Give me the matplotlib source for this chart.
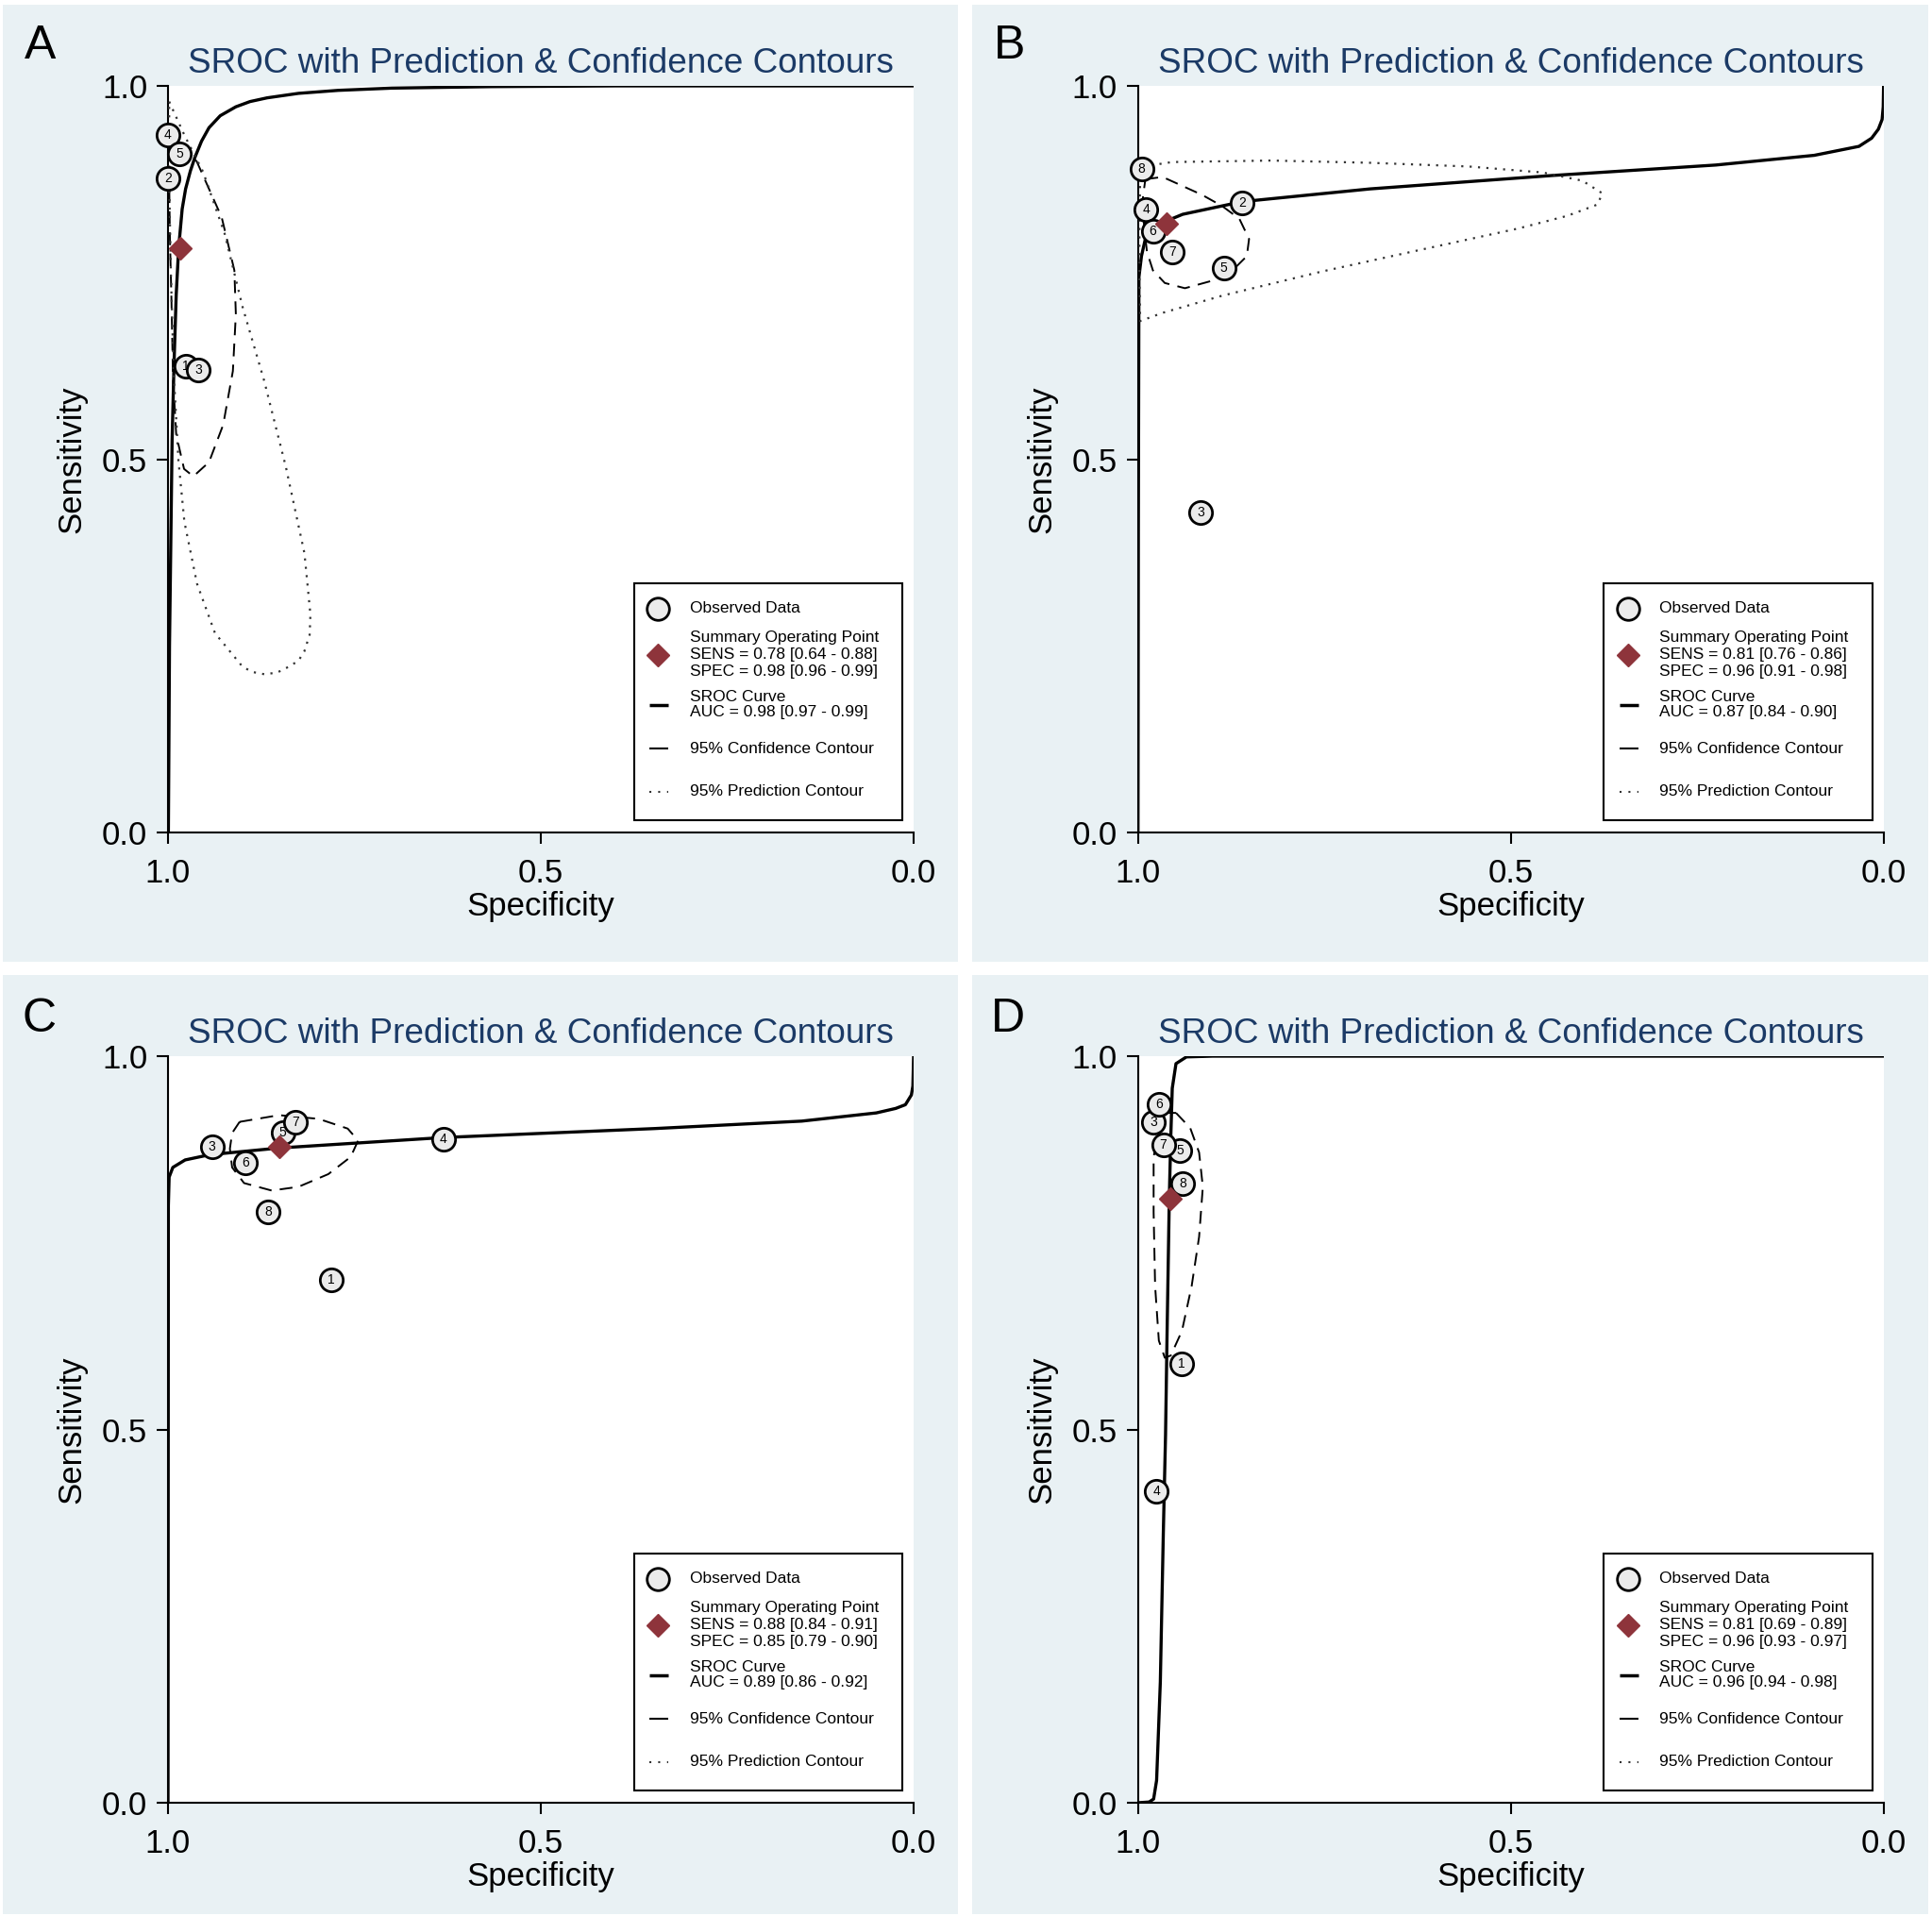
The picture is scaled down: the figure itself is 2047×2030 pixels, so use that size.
import numpy as np
import matplotlib
matplotlib.use("Agg")
import matplotlib.pyplot as plt
from matplotlib.patches import Rectangle

plt.rcParams['font.family'] = ['Liberation Sans', 'DejaVu Sans']

W, H = 2047, 2030
BG = '#e9f1f4'
NAVY = '#1b3a66'
CRAN = '#8e343b'
DOT = '#333333'

# ---------------- panel A ----------------
a_study = [1, 2, 3, 4, 5]
a_spec = [0.976, 1.000, 0.959, 1.000, 0.985]
a_sens = [0.625, 0.876, 0.619, 0.934, 0.909]
a_sum = (0.984, 0.783)
a_sroc_spec = [0.9995, 0.998, 0.9945, 0.992, 0.989, 0.9857, 0.981, 0.9764, 0.970, 0.964,
               0.955, 0.945, 0.930, 0.909, 0.890, 0.867, 0.825, 0.772, 0.700, 0.566, 0.400, 0.0]
a_sroc_sens = [0.0, 0.25, 0.525, 0.625, 0.72, 0.783, 0.835, 0.862, 0.886, 0.904,
               0.926, 0.944, 0.960, 0.972, 0.979, 0.984, 0.990, 0.994, 0.997, 0.999, 1.0, 1.0]
a_conf_spec = [0.962, 0.928, 0.911, 0.909, 0.913, 0.926, 0.945, 0.966, 0.9785,
               0.989, 0.9933, 0.9954, 0.9975, 0.9983, 0.992, 0.978]
a_conf_sens = [0.900, 0.824, 0.753, 0.694, 0.618, 0.546, 0.496, 0.477, 0.487,
               0.533, 0.609, 0.715, 0.799, 0.862, 0.895, 0.905]
a_pred_spec = [0.9984, 0.978, 0.953, 0.924, 0.900, 0.871, 0.842, 0.817, 0.809, 0.810,
               0.817, 0.825, 0.838, 0.854, 0.871, 0.887, 0.900, 0.937, 0.961, 0.978,
               0.986, 0.9926, 0.996, 0.9984]
a_pred_sens = [0.979, 0.934, 0.885, 0.802, 0.704, 0.605, 0.490, 0.374, 0.292, 0.265,
               0.243, 0.230, 0.222, 0.214, 0.212, 0.215, 0.222, 0.267, 0.333, 0.416,
               0.498, 0.621, 0.745, 0.868]
a_text = ["SENS = 0.78 [0.64 - 0.88]", "SPEC = 0.98 [0.96 - 0.99]", "AUC = 0.98 [0.97 - 0.99]"]

# ---------------- panel B ----------------
b_study = [2, 3, 4, 5, 6, 7, 8]
b_spec = [0.860, 0.916, 0.989, 0.885, 0.980, 0.954, 0.995]
b_sens = [0.843, 0.428, 0.834, 0.756, 0.805, 0.778, 0.889]
b_sum = (0.962, 0.815)
b_sroc_spec = [1.0, 0.9995, 0.9987, 0.9953, 0.9901, 0.974, 0.940, 0.860, 0.689,
               0.444, 0.225, 0.093, 0.033, 0.016, 0.007, 0.002, 0.0005, 0.0]
b_sroc_sens = [0.0, 0.40, 0.744, 0.772, 0.795, 0.814, 0.828, 0.845, 0.862,
               0.880, 0.894, 0.907, 0.919, 0.930, 0.942, 0.955, 0.972, 1.0]
b_conf_spec = [0.9901, 0.967, 0.947, 0.914, 0.887, 0.864, 0.851, 0.854, 0.871,
               0.897, 0.937, 0.964, 0.980, 0.988, 0.992, 0.9934]
b_conf_sens = [0.875, 0.878, 0.869, 0.854, 0.839, 0.822, 0.795, 0.772, 0.755,
               0.740, 0.729, 0.736, 0.753, 0.778, 0.816, 0.850]
b_pred_spec = [0.9934, 0.954, 0.821, 0.689, 0.556, 0.457, 0.404, 0.377, 0.384, 0.424,
               0.490, 0.623, 0.755, 0.887, 0.967, 0.997, 0.998, 0.998, 0.997]
b_pred_sens = [0.892, 0.898, 0.900, 0.897, 0.892, 0.884, 0.873, 0.856, 0.841, 0.826,
               0.809, 0.780, 0.751, 0.719, 0.696, 0.685, 0.740, 0.824, 0.875]
b_text = ["SENS = 0.81 [0.76 - 0.86]", "SPEC = 0.96 [0.91 - 0.98]", "AUC = 0.87 [0.84 - 0.90]"]

# ---------------- panel C ----------------
c_study = [1, 3, 4, 5, 6, 7, 8]
c_spec = [0.781, 0.941, 0.631, 0.846, 0.896, 0.829, 0.866]
c_sens = [0.700, 0.879, 0.889, 0.898, 0.857, 0.912, 0.791]
c_sum = (0.851, 0.879)
c_sroc_spec = [1.0, 0.9995, 0.9985, 0.9935, 0.977, 0.944, 0.851, 0.631, 0.348,
               0.150, 0.050, 0.024, 0.011, 0.003, 0.001, 0.0]
c_sroc_sens = [0.0, 0.80, 0.838, 0.851, 0.861, 0.868, 0.877, 0.891, 0.903,
               0.913, 0.924, 0.930, 0.935, 0.948, 0.960, 1.0]
c_conf_spec = [0.904, 0.851, 0.798, 0.759, 0.745, 0.755, 0.785, 0.825, 0.861,
               0.898, 0.914, 0.917, 0.914]
c_conf_sens = [0.912, 0.921, 0.916, 0.903, 0.887, 0.865, 0.842, 0.825, 0.820,
               0.830, 0.851, 0.876, 0.897]
c_text = ["SENS = 0.88 [0.84 - 0.91]", "SPEC = 0.85 [0.79 - 0.90]", "AUC = 0.89 [0.86 - 0.92]"]

# ---------------- panel D ----------------
d_study = [1, 3, 4, 5, 6, 7, 8]
d_spec = [0.941, 0.979, 0.975, 0.944, 0.972, 0.966, 0.940]
d_sens = [0.588, 0.912, 0.417, 0.873, 0.935, 0.881, 0.829]
d_sum = (0.957, 0.809)
d_sroc_spec = [1.0, 0.985, 0.979, 0.975, 0.970, 0.966, 0.963, 0.961, 0.958,
               0.956, 0.954, 0.949, 0.935, 0.900, 0.0]
d_sroc_sens = [0.0, 0.001, 0.005, 0.030, 0.162, 0.361, 0.493, 0.626, 0.808,
               0.891, 0.957, 0.990, 0.999, 1.0, 1.0]
d_conf_spec = [0.949, 0.930, 0.918, 0.913, 0.918, 0.928, 0.941, 0.956, 0.964,
               0.972, 0.977, 0.979, 0.979, 0.973, 0.962]
d_conf_sens = [0.924, 0.904, 0.871, 0.825, 0.758, 0.692, 0.632, 0.599, 0.596,
               0.619, 0.692, 0.791, 0.864, 0.904, 0.924]
d_text = ["SENS = 0.81 [0.69 - 0.89]", "SPEC = 0.96 [0.93 - 0.97]", "AUC = 0.96 [0.94 - 0.98]"]


def closed(x, y):
    return list(x) + [x[0]], list(y) + [y[0]]


def draw_legend(ax, txt):
    ax.add_patch(Rectangle((0.625, 0.016), 0.36, 0.318, transform=ax.transAxes,
                           facecolor='white', edgecolor='black', lw=1.5, zorder=10))
    hx, tx = 0.657, 0.6996
    kw = dict(transform=ax.transAxes, fontsize=12.5, va='center', ha='left', zorder=11)
    ax.plot([hx], [0.300], 'o', ms=17, mfc='#ebebeb', mec='black', mew=2,
            transform=ax.transAxes, zorder=11, clip_on=False)
    ax.text(tx, 0.300, "Observed Data", **kw)
    ax.plot([hx], [0.238], 'D', ms=12.5, color=CRAN, transform=ax.transAxes,
            zorder=11, clip_on=False)
    ax.text(tx, 0.261, "Summary Operating Point", **kw)
    ax.text(tx, 0.238, txt[0], **kw)
    ax.text(tx, 0.216, txt[1], **kw)
    ax.plot([0.646, 0.671], [0.171, 0.171], color='black', lw=2.5,
            transform=ax.transAxes, zorder=11, solid_capstyle='butt')
    ax.text(tx, 0.182, "SROC Curve", **kw)
    ax.text(tx, 0.161, txt[2], **kw)
    ax.plot([0.646, 0.671], [0.1125, 0.1125], color='black', lw=1.5,
            transform=ax.transAxes, zorder=11, solid_capstyle='butt')
    ax.text(tx, 0.1125, "95% Confidence Contour", **kw)
    ax.plot([0.646, 0.671], [0.0547, 0.0547], color=DOT, lw=1.5, dashes=(1, 3.5),
            transform=ax.transAxes, zorder=11)
    ax.text(tx, 0.0547, "95% Prediction Contour", **kw)


def draw_panel(ax, study, spec, sens, summ, sroc_x, sroc_y,
               conf_x, conf_y, txt, pred_x=None, pred_y=None):
    ax.set_facecolor('white')
    ax.set_xlim(1.0, 0.0)
    ax.set_ylim(0.0, 1.0)
    for s in ['top', 'right']:
        ax.spines[s].set_visible(False)
    for s in ['left', 'bottom']:
        ax.spines[s].set_linewidth(1.5)
    ax.set_xticks([1.0, 0.5, 0.0])
    ax.set_yticks([0.0, 0.5, 1.0])
    ax.set_xticklabels(['1.0', '0.5', '0.0'])
    ax.set_yticklabels(['0.0', '0.5', '1.0'])
    ax.tick_params(axis='both', direction='out', length=8.6, width=1.5, labelsize=25)
    ax.tick_params(axis='x', pad=10.5)
    ax.tick_params(axis='y', pad=7)

    ax.plot(sroc_x, sroc_y, color='black', lw=2.4, zorder=3)
    cx, cy = closed(conf_x, conf_y)
    ax.plot(cx, cy, color='black', lw=1.4, dashes=(7, 4.5), zorder=3)
    if pred_x is not None:
        px, py = closed(pred_x, pred_y)
        ax.plot(px, py, color=DOT, lw=1.6, dashes=(1, 3), zorder=3)

    for i, (n, x, y) in enumerate(zip(study, spec, sens)):
        z = 4 + 0.02 * i
        ax.plot([x], [y], 'o', ms=17.5, mfc='#ebebeb', mec='black', mew=2,
                zorder=z, clip_on=False)
        ax.text(x, y, str(n), fontsize=10, ha='center', va='center',
                zorder=z + 0.01, clip_on=False)
    ax.plot([summ[0]], [summ[1]], 'D', ms=12.5, color=CRAN, zorder=6, clip_on=False)

    ax.set_xlabel("Specificity", fontsize=25)
    ax.set_ylabel("Sensitivity", fontsize=25)
    ax.xaxis.set_label_coords(0.5, -0.078)
    ax.yaxis.set_label_coords(-0.108, 0.5)
    ax.text(0.5, 1.0177, "SROC with Prediction & Confidence Contours", transform=ax.transAxes,
            fontsize=26.6, color=NAVY, ha='center', va='baseline')
    draw_legend(ax, txt)


fig = plt.figure(figsize=(W / 100, H / 100), dpi=100)
fig.patch.set_facecolor('white')

# panel backgrounds (pixel boxes)
for (x0, y0, x1, y1) in [(3, 5, 1015, 1019), (1030, 5, 2043, 1019),
                         (3, 1033, 1015, 2028), (1030, 1033, 2043, 2028)]:
    fig.add_artist(Rectangle((x0 / W, 1 - y1 / H), (x1 - x0) / W, (y1 - y0) / H,
                             transform=fig.transFigure, facecolor=BG, edgecolor='none',
                             zorder=0))

aw, ah = 790 / W, 791 / H
lefts = [178 / W, 1205.7 / W]
bottoms = [1 - 882 / H, 1 - 1910 / H]

axA = fig.add_axes([lefts[0], bottoms[0], aw, ah])
axB = fig.add_axes([lefts[1], bottoms[0], aw, ah])
axC = fig.add_axes([lefts[0], bottoms[1], aw, ah])
axD = fig.add_axes([lefts[1], bottoms[1], aw, ah])

draw_panel(axA, a_study, a_spec, a_sens, a_sum, a_sroc_spec, a_sroc_sens,
           a_conf_spec, a_conf_sens, a_text, a_pred_spec, a_pred_sens)
draw_panel(axB, b_study, b_spec, b_sens, b_sum, b_sroc_spec, b_sroc_sens,
           b_conf_spec, b_conf_sens, b_text, b_pred_spec, b_pred_sens)
draw_panel(axC, c_study, c_spec, c_sens, c_sum, c_sroc_spec, c_sroc_sens,
           c_conf_spec, c_conf_sens, c_text)
draw_panel(axD, d_study, d_spec, d_sens, d_sum, d_sroc_spec, d_sroc_sens,
           d_conf_spec, d_conf_sens, d_text)

for letter, x, yb in [('A', 26, 62), ('B', 1053, 62), ('C', 24, 1093), ('D', 1050, 1093)]:
    fig.text(x / W, 1 - yb / H, letter, fontsize=36, ha='left', va='baseline')

fig.savefig('out.png', dpi=100, facecolor='white')
